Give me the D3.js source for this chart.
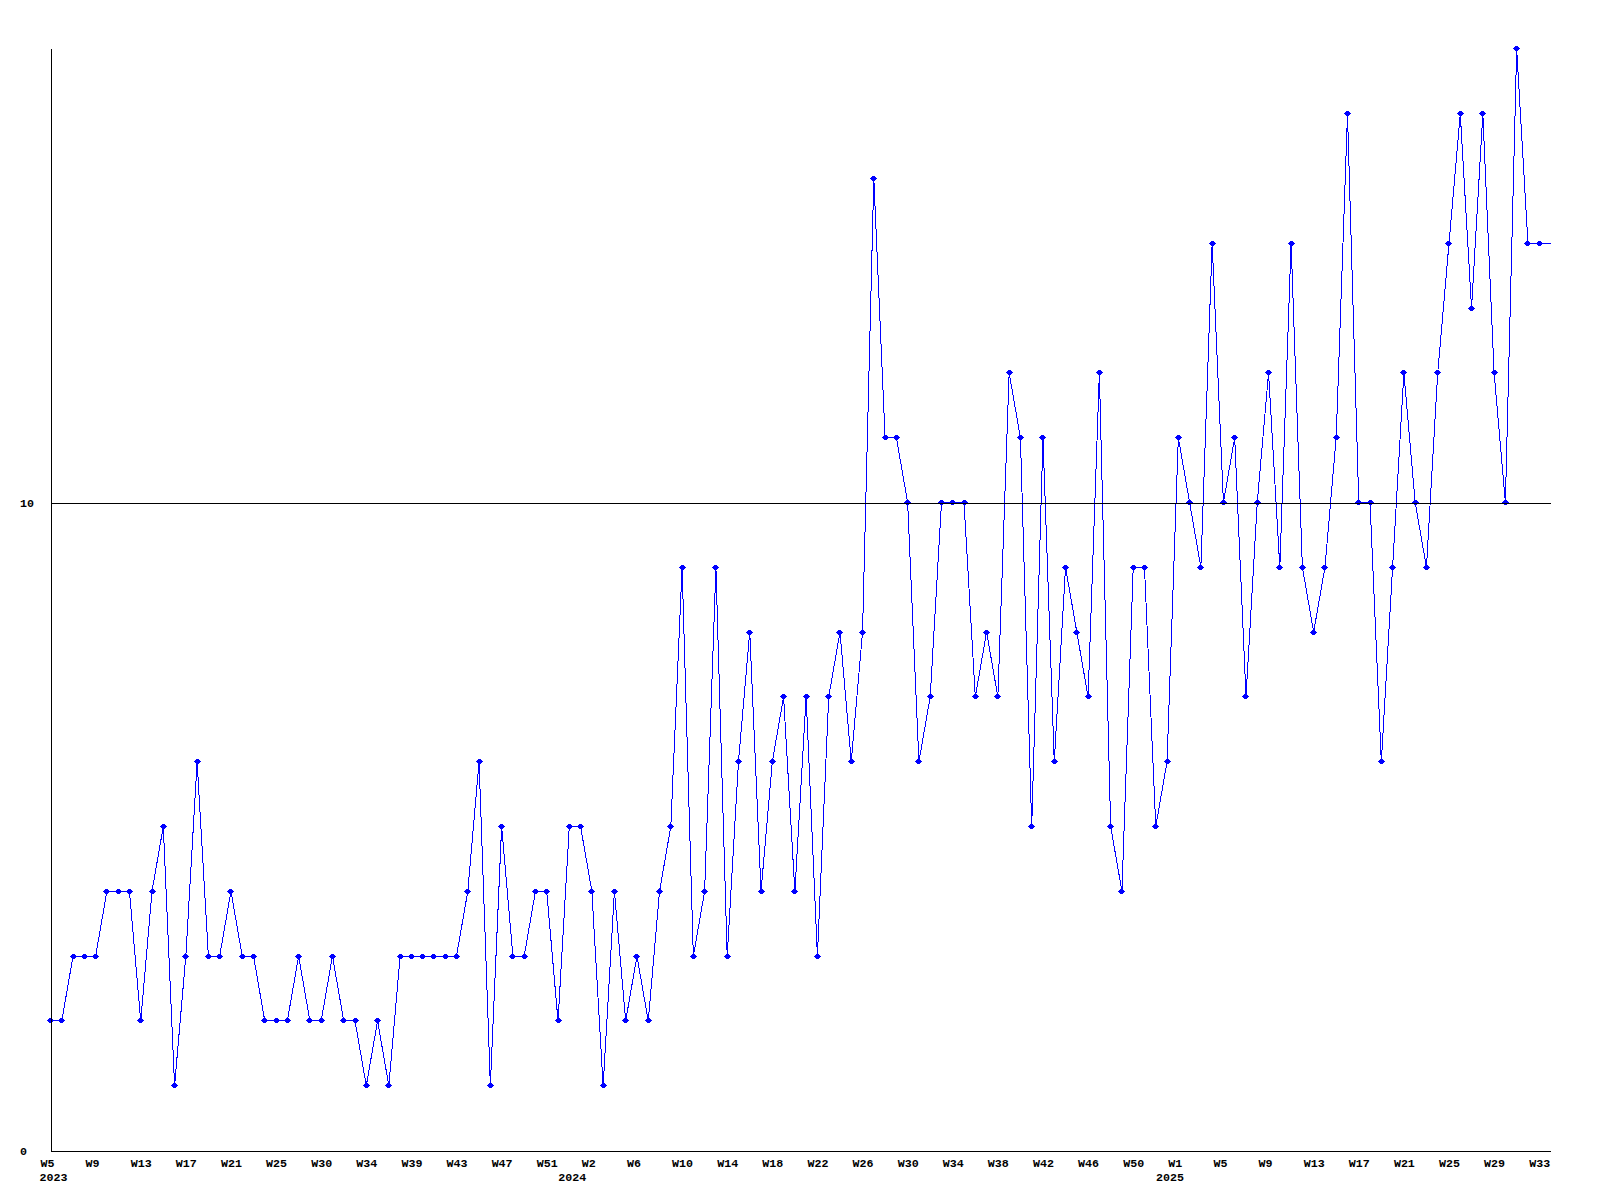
<!DOCTYPE html>
<html><head><meta charset="utf-8">
<script src="https://cdn.jsdelivr.net/npm/d3@7"></script>
<style>body{margin:0;background:#fff}svg{display:block}</style>
</head><body>
<svg id="c" width="1600" height="1200"></svg>
<script>
// weekly values, 2023 W5 .. 2025 W34 (the last, partial week is drawn without a marker)
const values = [
  2,2,3,3,3,4,4,4,2,4,
  5,1,3,6,3,3,4,3,3,2,
  2,2,3,2,2,3,2,2,1,2,
  1,3,3,3,3,3,3,4,6,1,
  5,3,3,4,4,2,5,5,4,1,
  4,2,3,2,4,5,9,3,4,9,
  3,6,8,4,6,7,4,7,3,7,
  8,6,8,15,11,11,10,6,7,10,
  10,10,7,8,7,12,11,5,11,6,
  9,8,7,12,5,4,9,9,5,6,
  11,10,9,14,10,11,7,10,12,9,
  14,9,8,9,11,16,10,10,6,9,
  12,10,9,12,14,16,13,16,12,10,
  17,14,14,14
];
const tickLabels = ["W5","W9","W13","W17","W21","W25","W30","W34","W39","W43","W47","W51",
  "W2","W6","W10","W14","W18","W22","W26","W30","W34","W38","W42","W46","W50",
  "W1","W5","W9","W13","W17","W21","W25","W29","W33"];
const tickStep = 4;
const yearLabels = ["2023","2024","2025"];
const yearIndex = [0,46,99];
const yTicks = [0,10];
const yMax = 17;

const FONT = "'Liberation Mono','DejaVu Sans Mono',monospace";
const svg = d3.select("#c");
svg.append("rect").attr("width",1600).attr("height",1200).attr("fill","#fff");

const x = d3.scaleLinear().domain([0, values.length-1]).range([50.5, 1550.5]);
const y = d3.scaleLinear().domain([0, yMax]).range([1150.5, 48.9]);

// data line
svg.append("path")
  .datum(values)
  .attr("fill","none").attr("stroke","#0000ff").attr("stroke-width",1)
  .attr("shape-rendering","crispEdges")
  .attr("d", d3.line().x((d,i)=>x(i)).y(d=>y(d)));

// markers: 5x5 plus with a filled 3x3 centre
const marked = values.slice(0, -1);
const mk = svg.append("g").attr("fill","#0000ff").attr("stroke","none")
  .attr("shape-rendering","crispEdges");
mk.selectAll("path").data(marked).enter().append("path")
  .attr("d",(d,i)=>{
    const px = Math.floor(x(i)), py = Math.floor(y(d));
    return `M${px-1},${py-2}h3v1h1v1h1v1h-1v1h-1v1h-3v-1h-1v-1h-1v-1h1v-1h1z`;
  });

// y axis with gridline at 10
const yAxis = svg.append("g").attr("transform","translate(50.5,0)")
  .call(d3.axisLeft(y).tickValues(yTicks).tickSize(-1500).tickSizeOuter(0).tickFormat(d3.format("d")));
yAxis.selectAll("path,line").attr("stroke","#000").attr("shape-rendering","crispEdges");
yAxis.selectAll(".tick").filter(d=>d===0).select("line").remove();
yAxis.selectAll("text").attr("text-anchor","start").attr("x",-30.5).attr("dy",null).attr("y",4)
  .attr("font-family",FONT).attr("font-weight","bold").attr("font-size","11.67px").attr("fill","#000");

// x axis
const tickIdx = tickLabels.map((_,k)=>k*tickStep);
const xAxis = svg.append("g").attr("transform",`translate(0,${y(0)})`)
  .call(d3.axisBottom(x).tickValues(tickIdx).tickSize(0).tickSizeOuter(0).tickFormat((d,k)=>tickLabels[k]));
xAxis.selectAll("path").attr("stroke","#000").attr("shape-rendering","crispEdges");
xAxis.selectAll("line").remove();
xAxis.selectAll("text").attr("text-anchor","start").attr("x",-10.5).attr("dy",null).attr("y",16)
  .attr("font-family",FONT).attr("font-weight","bold").attr("font-size","11.67px").attr("fill","#000");

// year labels
svg.append("g").selectAll("text").data(yearLabels).enter().append("text")
  .attr("x",(d,k)=>x(yearIndex[k])-11)
  .attr("y", y(0)+30.5)
  .attr("font-family",FONT).attr("font-weight","bold").attr("font-size","11.67px").attr("fill","#000")
  .text(d=>d);
</script>
</body></html>
